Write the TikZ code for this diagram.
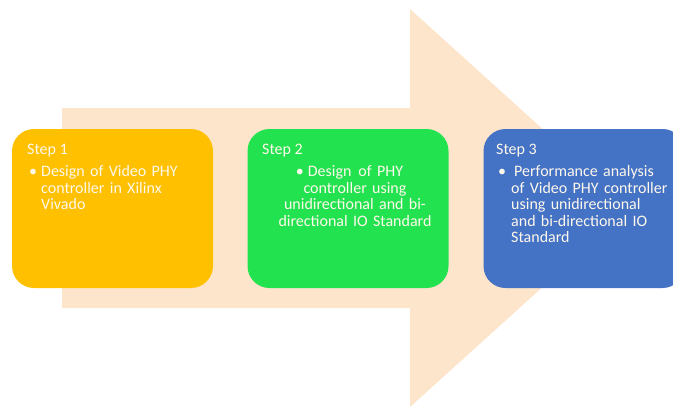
\documentclass[tikz,border=0pt]{standalone}
\usepackage{fontspec}
\setmainfont{Carlito}
\definecolor{peach}{HTML}{FDE5CB}
\definecolor{boxorange}{HTML}{FFC000}
\definecolor{boxgreen}{HTML}{23E24F}
\definecolor{boxblue}{HTML}{4472C4}
\definecolor{txt}{HTML}{FFF8EC}
\begin{document}
\begin{tikzpicture}[x=1pt,y=-1pt,
  stepbox/.style={rounded corners=22pt, minimum width=201pt, minimum height=159pt, inner sep=0pt},
  steptitle/.style={anchor=base west, inner sep=0pt, text=txt, font=\fontsize{16}{16.5}\selectfont},
  steptext/.style={anchor=base west, inner sep=0pt, text=txt, font=\fontsize{16}{16.5}\selectfont, align=left}]
\useasboundingbox (0,0) rectangle (673,405);
\clip (0,0) rectangle (673,405);
% big arrow
\fill[peach] (62,108) -- (410,108) -- (410,9) -- (630,208) -- (410,407) -- (410,308) -- (62,308) -- cycle;
% boxes
\node[stepbox, fill=boxorange] (b1) at (112.5,208.5) {};
\node[stepbox, fill=boxgreen] (b2) at (348,208.5) {};
\node[stepbox, fill=boxblue] (b3) at (584,208.5) {};
% titles
\node[steptitle] (t1) at (27,154) {Step 1};
\node[steptitle] (t2) at (262,154) {Step 2};
\node[steptitle] (t3) at (496,154) {Step 3};
% texts
\node[steptext, text width=180pt] (d1) at (29,176.5) {\makebox[12pt][l]{•}Design of Video PHY\\\hspace*{12pt}controller in Xilinx\\\hspace*{12pt}Vivado};
\node[steptext, text width=180pt, align=center, anchor=base] (d2) at (355,176.5) {•\hspace{4pt}Design\hspace{7pt}of PHY\makebox[11pt]{}\\controller using\\unidirectional and bi-\\directional IO Standard};
\node[steptext, text width=180pt] (d3) at (498,176.5) {\makebox[13pt][l]{•}\hspace{3pt}Performance analysis\\\hspace*{13pt}of Video PHY controller\\\hspace*{13pt}using unidirectional\\\hspace*{13pt}and bi-directional IO\\\hspace*{13pt}Standard};
\end{tikzpicture}
\end{document}
